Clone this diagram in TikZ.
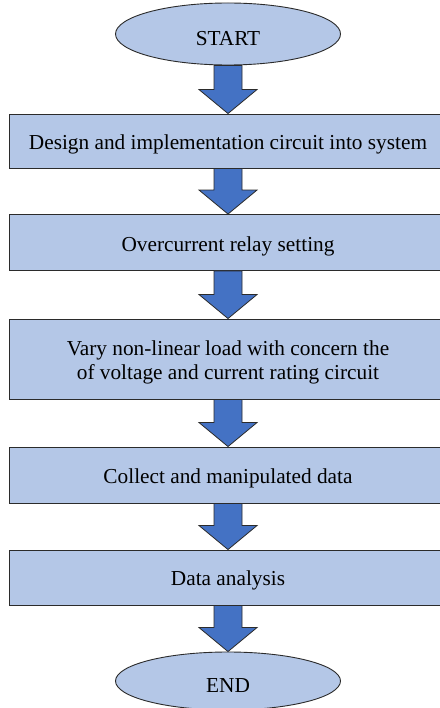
\documentclass[tikz,border=0pt]{standalone}
\usepackage{fontspec}
\setmainfont{Liberation Serif}
\usetikzlibrary{shapes.geometric,calc}
\definecolor{boxfill}{HTML}{B4C7E7}
\definecolor{arrfill}{HTML}{4472C4}
\definecolor{edge}{HTML}{2B2B2B}
\newcommand\dn[2]{\raisebox{-#1}[\height][\depth]{#2}}
\tikzset{
  stepbox/.style={draw=edge,line width=0.9pt,fill=boxfill,rectangle,minimum width=438pt,inner sep=0pt,align=center,font=\fontsize{21.3}{24.5}\selectfont},
  termbox/.style={draw=edge,line width=0.9pt,fill=boxfill,ellipse,minimum width=225pt,inner sep=0pt,font=\fontsize{21.3}{24.5}\selectfont},
  barrow/.style={draw=edge,line width=0.8pt,fill=arrfill,line join=miter}
}
\newcommand\blockarrow[2]{%
  \draw[barrow] ($(#1.south)+(-14,0)$) -- ($(#1.south)+(14,0)$) -- ($(#2.north)+(14,-24)$) -- ($(#2.north)+(29,-24)$) -- (#2.north) -- ($(#2.north)+(-29,-24)$) -- ($(#2.north)+(-14,-24)$) -- cycle;}
\begin{document}
\begin{tikzpicture}[x=1pt,y=-1pt]
\useasboundingbox (0,0) rectangle (439,708);
\fill[white] (0,0) rectangle (439,708);
\node[termbox,minimum height=62pt] (start) at (228,34) {\dn{5pt}{START}};
\node[stepbox,minimum height=54pt] (s1) at (228,141) {\dn{3pt}{Design and implementation circuit into system}};
\node[stepbox,minimum height=56pt] (s2) at (228,242.5) {\dn{3.5pt}{Overcurrent relay setting}};
\node[stepbox,minimum height=80pt] (s3) at (228,359) {\dn{3.5pt}{\begin{tabular}{@{}c@{}}Vary non-linear load with concern the\\of voltage and current rating circuit\end{tabular}}};
\node[stepbox,minimum height=56pt] (s4) at (228,475) {\dn{3pt}{Collect and manipulated data}};
\node[stepbox,minimum height=55pt] (s5) at (228,577.5) {\dn{3pt}{Data analysis}};
\node[termbox,minimum height=58pt] (end) at (228,681) {\dn{5pt}{END}};
\blockarrow{start}{s1}
\blockarrow{s1}{s2}
\blockarrow{s2}{s3}
\blockarrow{s3}{s4}
\blockarrow{s4}{s5}
\blockarrow{s5}{end}
\end{tikzpicture}
\end{document}
